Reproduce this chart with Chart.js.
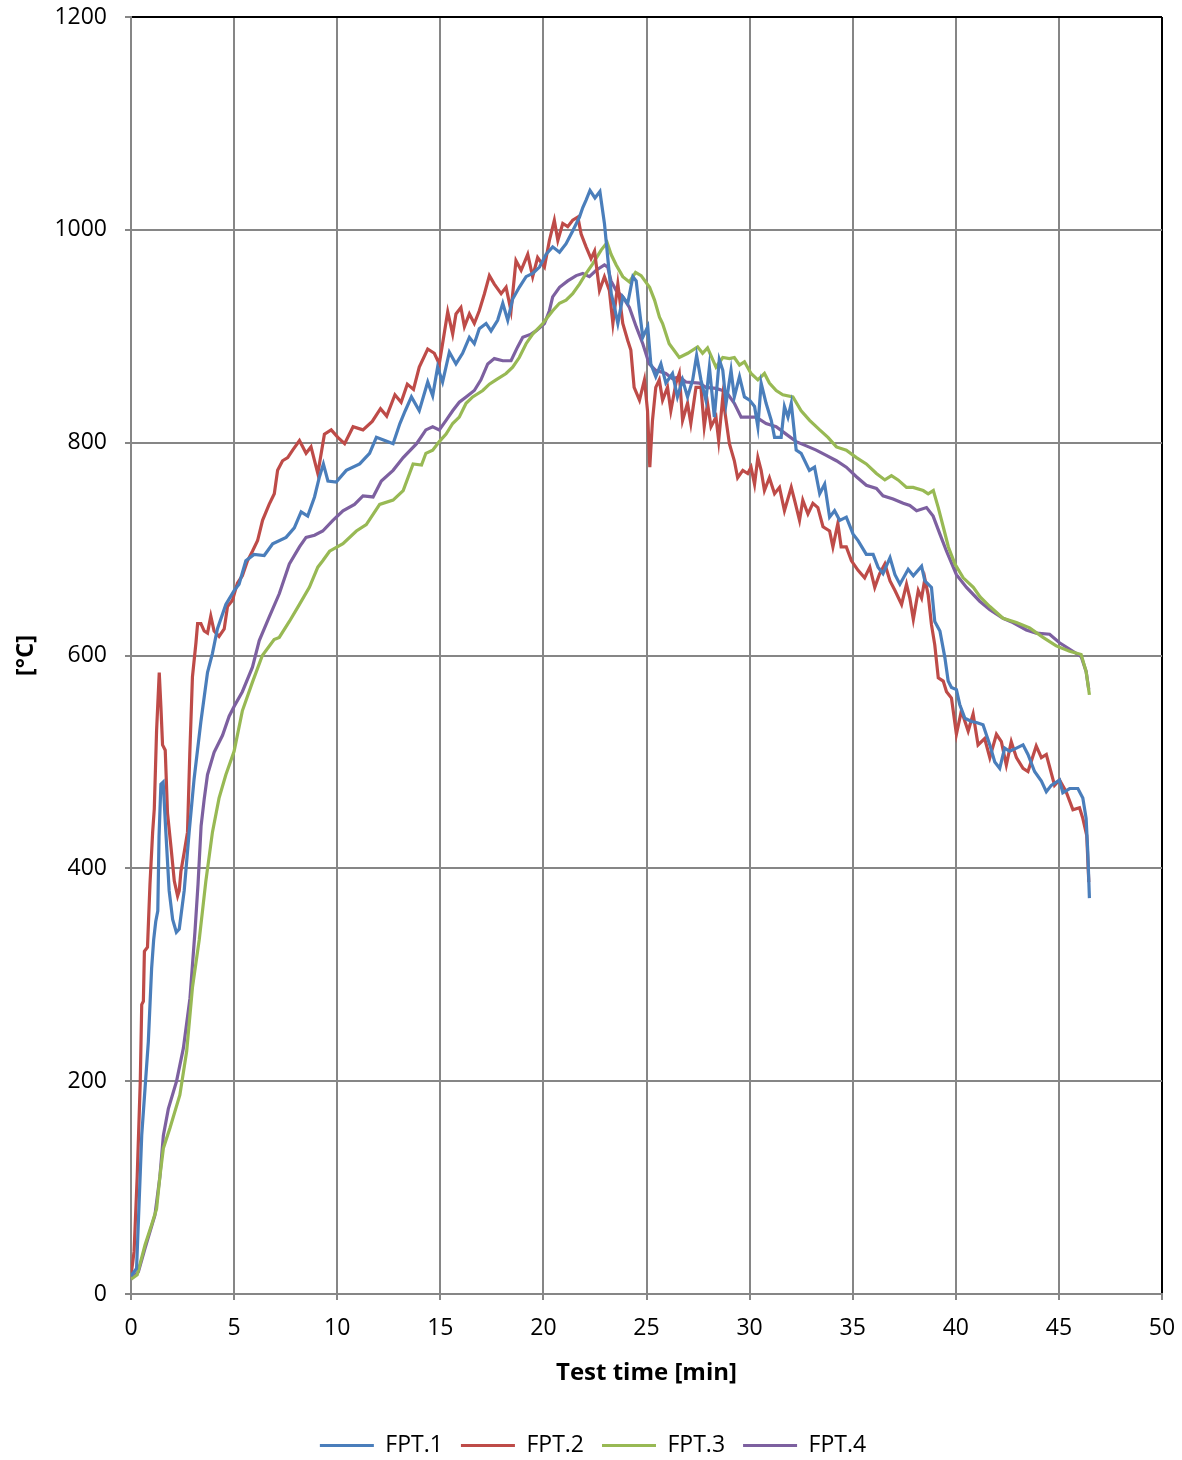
<!DOCTYPE html>
<html>
<head>
<meta charset="utf-8">
<script src="https://cdn.jsdelivr.net/npm/chart.js@4/dist/chart.umd.min.js"></script>
<style>
  html, body { margin: 0; padding: 0; background: #fff; }
  #wrap { width: 1182px; height: 1460px; }
</style>
</head>
<body>
<div id="wrap"><canvas id="chart" width="1182" height="1460"></canvas></div>
<script>
// series labels and colours (Excel 2007 palette)
const seriesNames = ['FPT.1', 'FPT.2', 'FPT.3', 'FPT.4'];
const seriesColors = ['#4a7ebb', '#be4b48', '#98b954', '#7d60a0'];

// axis ticks
const xTicks = [0, 5, 10, 15, 20, 25, 30, 35, 40, 45, 50];
const yTicks = [0, 200, 400, 600, 800, 1000, 1200];

// [test time (min), temperature (°C)]
const fpt1 = [[0,17],[0.27,24],[0.52,149],[0.68,193],[0.84,237],[1.0,306],[1.1,333],[1.2,350],[1.3,360],[1.36,430],[1.45,479],[1.56,481],[1.69,434],[1.85,379],[2.02,352],[2.2,340],[2.34,343],[2.58,379],[2.82,434],[3.06,484],[3.39,538],[3.71,584],[3.95,602],[4.19,625],[4.6,648],[5.0,661],[5.24,667],[5.57,689],[5.97,695],[6.46,694],[6.87,705],[7.52,711],[7.92,720],[8.25,735],[8.57,731],[8.9,749],[9.14,768],[9.33,780],[9.55,764],[9.95,763],[10.44,774],[11.09,780],[11.57,790],[11.9,805],[12.31,802],[12.71,799],[13.04,818],[13.3,830],[13.6,843],[13.98,830],[14.39,857],[14.63,844],[14.87,871],[15.11,857],[15.44,885],[15.76,874],[16.08,884],[16.41,899],[16.65,893],[16.89,907],[17.22,912],[17.46,905],[17.78,915],[18.03,931],[18.27,915],[18.51,935],[18.83,946],[19.16,956],[19.48,959],[19.81,965],[20.13,977],[20.45,984],[20.78,979],[21.1,987],[21.42,999],[21.75,1012],[21.91,1021],[22.07,1028],[22.26,1037],[22.5,1030],[22.74,1036],[22.96,1006],[23.12,974],[23.29,940],[23.45,927],[23.61,912],[23.85,937],[24.09,931],[24.34,956],[24.5,952],[24.66,924],[24.82,899],[25.06,909],[25.21,874],[25.45,862],[25.7,874],[25.94,856],[26.26,865],[26.5,843],[26.75,859],[26.99,843],[27.24,859],[27.43,882],[27.64,859],[27.88,840],[28.05,871],[28.29,824],[28.53,878],[28.7,868],[28.86,837],[29.1,868],[29.26,843],[29.51,862],[29.75,843],[30.0,840],[30.24,834],[30.4,815],[30.56,856],[30.8,837],[31.05,821],[31.21,805],[31.53,805],[31.69,834],[31.86,824],[32.02,837],[32.26,793],[32.5,790],[32.9,774],[33.15,777],[33.4,752],[33.64,761],[33.88,730],[34.12,736],[34.37,727],[34.69,730],[35.02,714],[35.26,708],[35.66,695],[35.99,695],[36.23,683],[36.47,677],[36.81,692],[37.05,676],[37.29,667],[37.69,681],[37.94,675],[38.34,684],[38.5,670],[38.82,664],[38.98,632],[39.23,623],[39.47,598],[39.63,576],[39.79,570],[40.03,568],[40.19,554],[40.44,541],[40.76,538],[41.0,537],[41.32,535],[41.65,516],[41.89,500],[42.13,494],[42.37,513],[42.61,510],[42.94,513],[43.26,516],[43.5,507],[43.82,491],[44.15,482],[44.39,472],[44.63,478],[45.03,483],[45.19,471],[45.52,475],[45.92,475],[46.16,466],[46.32,447],[46.4,416],[46.48,372]];

const fpt2 = [[0,17],[0.15,40],[0.3,110],[0.45,200],[0.52,272],[0.6,275],[0.65,322],[0.8,326],[0.92,385],[1.05,434],[1.13,456],[1.24,529],[1.37,584],[1.45,552],[1.53,516],[1.66,511],[1.77,452],[1.94,420],[2.1,388],[2.26,374],[2.34,379],[2.42,397],[2.58,415],[2.74,434],[2.85,507],[2.98,580],[3.15,612],[3.23,630],[3.39,630],[3.55,623],[3.71,621],[3.87,637],[4.03,623],[4.27,618],[4.52,625],[4.68,646],[4.92,652],[5.16,668],[5.4,675],[5.65,689],[5.89,698],[6.14,708],[6.38,727],[6.7,742],[6.95,752],[7.11,774],[7.35,783],[7.6,786],[7.84,793],[8.17,802],[8.49,790],[8.73,796],[9.06,771],[9.38,808],[9.71,812],[10.03,805],[10.36,799],[10.77,815],[11.25,812],[11.7,820],[12.1,832],[12.4,825],[12.8,845],[13.1,838],[13.4,855],[13.7,850],[13.98,871],[14.39,888],[14.71,884],[14.95,874],[15.11,893],[15.36,923],[15.6,902],[15.76,921],[16.0,927],[16.17,909],[16.41,921],[16.65,912],[16.89,924],[17.14,940],[17.38,957],[17.62,949],[17.95,940],[18.19,946],[18.43,924],[18.67,971],[18.92,962],[19.24,977],[19.48,956],[19.72,974],[20.05,965],[20.29,990],[20.53,1009],[20.7,990],[20.94,1006],[21.18,1003],[21.42,1009],[21.67,1012],[21.83,996],[22.07,984],[22.31,973],[22.48,980],[22.72,943],[22.96,956],[23.2,943],[23.37,912],[23.61,949],[23.85,912],[24.09,896],[24.24,887],[24.4,852],[24.66,840],[24.9,859],[25.05,830],[25.16,777],[25.29,821],[25.45,852],[25.62,859],[25.78,840],[26.02,852],[26.18,830],[26.43,856],[26.59,865],[26.75,821],[26.99,837],[27.15,818],[27.4,852],[27.64,852],[27.8,815],[27.96,837],[28.13,815],[28.37,824],[28.5,802],[28.7,843],[28.86,821],[29.02,799],[29.26,783],[29.42,767],[29.67,774],[29.91,771],[30.07,777],[30.24,761],[30.4,786],[30.56,774],[30.72,755],[30.96,767],[31.21,752],[31.45,758],[31.69,736],[32.02,758],[32.18,746],[32.42,727],[32.58,746],[32.83,733],[33.07,743],[33.31,739],[33.56,721],[33.88,717],[34.04,702],[34.28,724],[34.44,702],[34.69,702],[34.94,689],[35.26,680],[35.58,673],[35.83,683],[36.07,664],[36.31,677],[36.56,686],[36.81,670],[37.05,661],[37.37,648],[37.61,667],[37.77,654],[37.94,634],[38.18,661],[38.34,654],[38.5,672],[38.66,657],[38.82,629],[38.98,610],[39.15,579],[39.39,576],[39.55,566],[39.79,560],[40.03,526],[40.27,548],[40.6,529],[40.84,545],[41.08,516],[41.4,522],[41.65,504],[41.97,526],[42.21,519],[42.45,497],[42.69,519],[42.94,504],[43.26,494],[43.5,491],[43.9,515],[44.15,504],[44.39,507],[44.79,478],[45.03,483],[45.35,472],[45.68,455],[46.0,457],[46.16,447],[46.35,431],[46.45,387]];

const fpt3 = [[0,14],[0.3,18],[0.68,46],[1.0,65],[1.24,80],[1.4,110],[1.57,137],[1.89,156],[2.37,187],[2.7,228],[2.98,288],[3.31,333],[3.63,388],[3.95,434],[4.27,466],[4.6,488],[5.0,510],[5.4,548],[5.89,575],[6.37,600],[6.94,615],[7.19,617],[7.68,632],[8.17,648],[8.65,664],[9.06,683],[9.3,689],[9.63,698],[10.28,705],[10.93,717],[11.41,723],[12.06,742],[12.71,746],[13.2,755],[13.68,780],[14.09,779],[14.3,790],[14.63,793],[14.95,801],[15.28,808],[15.6,818],[15.92,824],[16.25,837],[16.57,843],[17.06,849],[17.38,855],[17.7,859],[18.19,865],[18.51,871],[18.83,880],[19.16,893],[19.48,902],[19.97,912],[20.21,918],[20.45,924],[20.78,931],[21.1,934],[21.42,940],[21.75,949],[22.07,959],[22.39,968],[22.8,981],[23.09,988],[23.28,977],[23.53,967],[23.85,956],[24.17,951],[24.47,960],[24.74,957],[25.15,946],[25.39,934],[25.63,918],[25.78,912],[26.1,893],[26.59,880],[27.0,884],[27.48,890],[27.72,884],[27.96,889],[28.37,871],[28.7,880],[29.02,879],[29.26,880],[29.51,873],[29.75,876],[30.07,865],[30.4,859],[30.72,865],[30.96,856],[31.29,849],[31.61,845],[32.1,843],[32.5,830],[32.91,821],[33.4,812],[33.8,805],[34.21,796],[34.69,793],[35.18,786],[35.66,780],[36.15,771],[36.56,765],[36.88,769],[37.2,765],[37.61,758],[37.93,758],[38.42,755],[38.66,752],[38.91,755],[39.15,739],[39.39,721],[39.64,702],[39.96,686],[40.36,673],[40.85,664],[41.18,655],[41.65,646],[42.29,635],[42.94,631],[43.58,626],[44.23,617],[44.87,609],[45.52,604],[46.08,601],[46.32,585],[46.48,563]];

const fpt4 = [[0,14],[0.36,21],[0.68,43],[1.16,74],[1.4,110],[1.57,149],[1.81,174],[2.21,200],[2.54,231],[2.86,278],[3.1,340],[3.25,385],[3.4,440],[3.55,465],[3.71,488],[4.03,509],[4.44,525],[4.76,543],[5.0,552],[5.4,566],[5.89,589],[6.22,614],[6.7,636],[7.19,658],[7.68,686],[8.17,702],[8.49,711],[8.9,713],[9.3,717],[9.79,727],[10.28,736],[10.84,742],[11.25,750],[11.74,749],[12.14,764],[12.71,774],[13.2,786],[13.85,799],[14.3,812],[14.63,815],[14.95,812],[15.28,821],[15.6,830],[15.92,838],[16.25,843],[16.65,849],[16.97,859],[17.3,874],[17.62,879],[18.03,877],[18.43,877],[18.75,890],[19.0,899],[19.4,902],[19.64,905],[20.05,912],[20.29,924],[20.45,937],[20.78,946],[21.18,952],[21.59,957],[21.91,959],[22.23,956],[22.56,962],[22.96,967],[23.12,965],[23.28,952],[23.53,943],[23.85,937],[24.17,927],[24.5,909],[24.82,893],[25.13,874],[25.45,868],[25.94,865],[26.26,860],[26.59,862],[26.91,857],[27.56,856],[27.88,852],[28.37,851],[28.86,848],[29.26,837],[29.59,824],[30.0,824],[30.32,824],[30.8,818],[31.29,815],[31.77,808],[32.26,801],[32.75,797],[33.23,793],[33.72,788],[34.21,783],[34.69,777],[35.18,768],[35.66,760],[36.15,757],[36.47,750],[36.96,747],[37.45,743],[37.77,741],[38.1,736],[38.58,739],[38.9,731],[39.23,714],[39.55,698],[40.03,676],[40.52,664],[41.16,651],[41.65,643],[42.29,635],[42.77,631],[43.42,624],[43.9,621],[44.55,620],[45.03,612],[45.68,604],[46.08,599],[46.32,585],[46.45,568]];

const seriesData = [fpt1, fpt2, fpt3, fpt4];

const FONT = "'Open Sans', 'Noto Sans', sans-serif";
const GRID = '#868686';

const datasets = seriesData.map((rows, i) => ({
    label: seriesNames[i],
    data: rows.map(r => ({ x: r[0], y: r[1] })),
    borderColor: seriesColors[i],
    backgroundColor: seriesColors[i],
    borderWidth: 3.2,
    pointRadius: 0,
    tension: 0,
    fill: false
}));

const ctx = document.getElementById('chart').getContext('2d');
new Chart(ctx, {
    type: 'line',
    data: { datasets },
    options: {
        responsive: false,
        animation: false,
        // left 4 / right 0 keeps the bottom legend centred like the original
        layout: { padding: { top: 17, right: 0, left: 4, bottom: -7 } },
        plugins: {
            tooltip: { enabled: false },
            legend: {
                position: 'bottom',
                labels: {
                    boxWidth: 54,
                    boxHeight: 3,
                    padding: 18,
                    color: '#000',
                    font: { family: FONT, size: 23 },
                    generateLabels: chart => chart.data.datasets.map((ds, i) => ({
                        text: ds.label,
                        fillStyle: ds.borderColor,
                        strokeStyle: ds.borderColor,
                        lineWidth: 0,
                        hidden: false,
                        datasetIndex: i
                    }))
                }
            }
        },
        scales: {
            x: {
                type: 'linear',
                min: xTicks[0],
                max: xTicks[xTicks.length - 1],
                afterBuildTicks: s => { s.ticks = xTicks.map(v => ({ value: v })); },
                afterFit: s => { s.height = 122; s.paddingLeft = 0; s.paddingRight = 20; },
                ticks: { color: '#000', padding: 15, font: { family: FONT, size: 23 }, callback: v => String(v) },
                grid: {
                    color: c => (c.tick && c.tick.value === xTicks[xTicks.length - 1]) ? '#000' : GRID,
                    lineWidth: 2,
                    tickLength: 6,
                    tickColor: GRID
                },
                border: { color: GRID, width: 2 },
                title: {
                    display: true,
                    text: 'Test time [min]',
                    color: '#000',
                    font: { family: FONT, size: 24, weight: 'bold' },
                    padding: { top: 0, bottom: 28 }
                }
            },
            y: {
                min: yTicks[0],
                max: yTicks[yTicks.length - 1],
                afterBuildTicks: s => { s.ticks = yTicks.map(v => ({ value: v })); },
                afterFit: s => { s.width = 127; s.paddingTop = 0; s.paddingBottom = 0; },
                ticks: { color: '#000', padding: 18, font: { family: FONT, size: 23 }, callback: v => String(v) },
                grid: {
                    color: c => (c.tick && c.tick.value === yTicks[yTicks.length - 1]) ? '#000' : GRID,
                    lineWidth: 2,
                    tickLength: 6,
                    tickColor: GRID
                },
                border: { color: GRID, width: 2 },
                title: {
                    display: true,
                    text: '[°C]',
                    color: '#000',
                    font: { family: FONT, size: 24, weight: 'bold' },
                    padding: { top: 8, bottom: 0 }
                }
            }
        }
    }
});
</script>
</body>
</html>
